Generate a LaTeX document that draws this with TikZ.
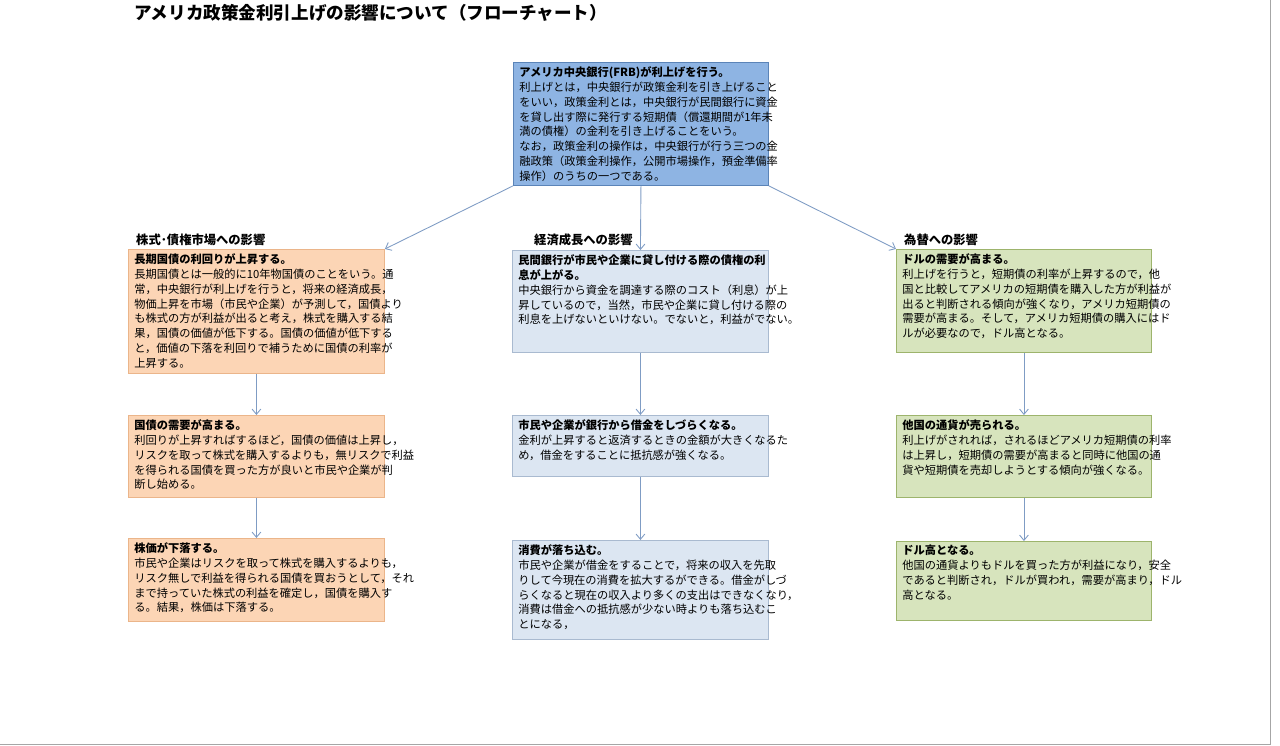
\documentclass[tikz,border=0pt]{standalone}
\usepackage{fontspec}
\setmainfont{Noto Sans CJK JP}
\usetikzlibrary{arrows.meta}

\definecolor{topfill}{HTML}{8EB4E3}
\definecolor{topline}{HTML}{5B84B8}
\definecolor{orfill}{HTML}{FCD5B5}
\definecolor{orline}{HTML}{EBB58A}
\definecolor{bufill}{HTML}{DCE6F2}
\definecolor{buline}{HTML}{A9BAD0}
\definecolor{grfill}{HTML}{D7E4BD}
\definecolor{grline}{HTML}{9DB46C}
\definecolor{arrowcol}{HTML}{7F9CC4}

\tikzset{
  box/.style={draw, line width=0.5pt, anchor=north west, inner sep=0pt},
  boxtext/.style={anchor=north west, align=left, inner sep=0pt,
    font=\fontsize{6.4pt}{8.5pt}\selectfont},
  head/.style={anchor=west, font=\fontsize{7pt}{8pt}\selectfont\bfseries},
  flow/.style={draw=arrowcol, line width=0.5pt, -{Straight Barb[length=3pt,width=5pt]}}
}

\begin{document}
\begin{tikzpicture}[x=0.02cm,y=-0.02cm]
    \useasboundingbox (0,0) rectangle (1280,746);
    \draw[gray!70] (1270,0) -- (1270,744) -- (0,744);

    % Title
    \node[anchor=west, font=\fontsize{10pt}{12pt}\selectfont\bfseries] (title) at (128,13)
      {アメリカ政策金利引上げの影響について（フローチャート）};

    % Top box
    \node[box, fill=topfill, draw=topline, minimum width=255*0.02cm, minimum height=123*0.02cm] (frb) at (513,62) {};
    \node[boxtext] (frbt) at (519,66) {\textbf{アメリカ中央銀行(FRB)が利上げを行う。}\\
      利上げとは，中央銀行が政策金利を引き上げること\\
      をいい，政策金利とは，中央銀行が民間銀行に資金\\
      を貸し出す際に発行する短期債（償還期間が1年未\\
      満の債権）の金利を引き上げることをいう。\\
      なお，政策金利の操作は，中央銀行が行う三つの金\\
      融政策（政策金利操作，公開市場操作，預金準備率\\
      操作）のうちの一つである。};

    % Column headers
    \node[head] (h1) at (130,240) {株式･債権市場への影響};
    \node[head] (h2) at (528,240) {経済成長への影響};
    \node[head] (h3) at (898,240) {為替への影響};

    % Left column
    \node[box, fill=orfill, draw=orline, minimum width=256*0.02cm, minimum height=124*0.02cm] (s1) at (128,249) {};
    \node[boxtext] at (134,253) {\textbf{長期国債の利回りが上昇する。}\\
      長期国債とは一般的に10年物国債のことをいう。通\\
      常，中央銀行が利上げを行うと，将来の経済成長，\\
      物価上昇を市場（市民や企業）が予測して，国債より\\
      も株式の方が利益が出ると考え，株式を購入する結\\
      果，国債の価値が低下する。国債の価値が低下する\\
      と，価値の下落を利回りで補うために国債の利率が\\
      上昇する。};
    \node[box, fill=orfill, draw=orline, minimum width=256*0.02cm, minimum height=82*0.02cm] (s2) at (128,415) {};
    \node[boxtext] at (134,419) {\textbf{国債の需要が高まる。}\\
      利回りが上昇すればするほど，国債の価値は上昇し，\\
      リスクを取って株式を購入するよりも，無リスクで利益\\
      を得られる国債を買った方が良いと市民や企業が判\\
      断し始める。};
    \node[box, fill=orfill, draw=orline, minimum width=256*0.02cm, minimum height=83*0.02cm] (s3) at (128,538) {};
    \node[boxtext] at (134,542) {\textbf{株価が下落する。}\\
      市民や企業はリスクを取って株式を購入するよりも，\\
      リスク無しで利益を得られる国債を買おうとして，それ\\
      まで持っていた株式の利益を確定し，国債を購入す\\
      る。結果，株価は下落する。};

    % Middle column
    \node[box, fill=bufill, draw=buline, minimum width=256*0.02cm, minimum height=102*0.02cm] (e1) at (512,250) {};
    \node[boxtext] at (518,254) {\textbf{民間銀行が市民や企業に貸し付ける際の債権の利}\\
      \textbf{息が上がる。}\\
      中央銀行から資金を調達する際のコスト（利息）が上\\
      昇しているので，当然，市民や企業に貸し付ける際の\\
      利息を上げないといけない。でないと，利益がでない。};
    \node[box, fill=bufill, draw=buline, minimum width=256*0.02cm, minimum height=61*0.02cm] (e2) at (512,415) {};
    \node[boxtext] at (518,419) {\textbf{市民や企業が銀行から借金をしづらくなる。}\\
      金利が上昇すると返済するときの金額が大きくなるた\\
      め，借金をすることに抵抗感が強くなる。};
    \node[box, fill=bufill, draw=buline, minimum width=256*0.02cm, minimum height=99*0.02cm] (e3) at (512,540) {};
    \node[boxtext] at (518,544) {\textbf{消費が落ち込む。}\\
      市民や企業が借金をすることで，将来の収入を先取\\
      りして今現在の消費を拡大するができる。借金がしづ\\
      らくなると現在の収入より多くの支出はできなくなり，\\
      消費は借金への抵抗感が少ない時よりも落ち込むこ\\
      とになる，};

    % Right column
    \node[box, fill=grfill, draw=grline, minimum width=255*0.02cm, minimum height=103*0.02cm] (x1) at (896,249) {};
    \node[boxtext] at (902,253) {\textbf{ドルの需要が高まる。}\\
      利上げを行うと，短期債の利率が上昇するので，他\\
      国と比較してアメリカの短期債を購入した方が利益が\\
      出ると判断される傾向が強くなり，アメリカ短期債の\\
      需要が高まる。そして，アメリカ短期債の購入にはド\\
      ルが必要なので，ドル高となる。};
    \node[box, fill=grfill, draw=grline, minimum width=255*0.02cm, minimum height=82*0.02cm] (x2) at (896,415) {};
    \node[boxtext] at (902,419) {\textbf{他国の通貨が売られる。}\\
      利上げがされれば，されるほどアメリカ短期債の利率\\
      は上昇し，短期債の需要が高まると同時に他国の通\\
      貨や短期債を売却しようとする傾向が強くなる。};
    \node[box, fill=grfill, draw=grline, minimum width=255*0.02cm, minimum height=79*0.02cm] (x3) at (896,541) {};
    \node[boxtext] at (902,545) {\textbf{ドル高となる。}\\
      他国の通貨よりもドルを買った方が利益になり，安全\\
      であると判断され，ドルが買われ，需要が高まり，ドル\\
      高となる。};

    % Connectors
    \draw[flow] (frb.south west) -- (s1.north east);
    \draw[flow] (frb.south) -- (e1.north);
    \draw[flow] (frb.south east) -- (x1.north west);
    \draw[flow] (s1.south) -- (s2.north);
    \draw[flow] (s2.south) -- (s3.north);
    \draw[flow] (e1.south) -- (e2.north);
    \draw[flow] (e2.south) -- (e3.north);
    \draw[flow] (x1.south) -- (x2.north);
    \draw[flow] (x2.south) -- (x3.north);
\end{tikzpicture}
\end{document}
